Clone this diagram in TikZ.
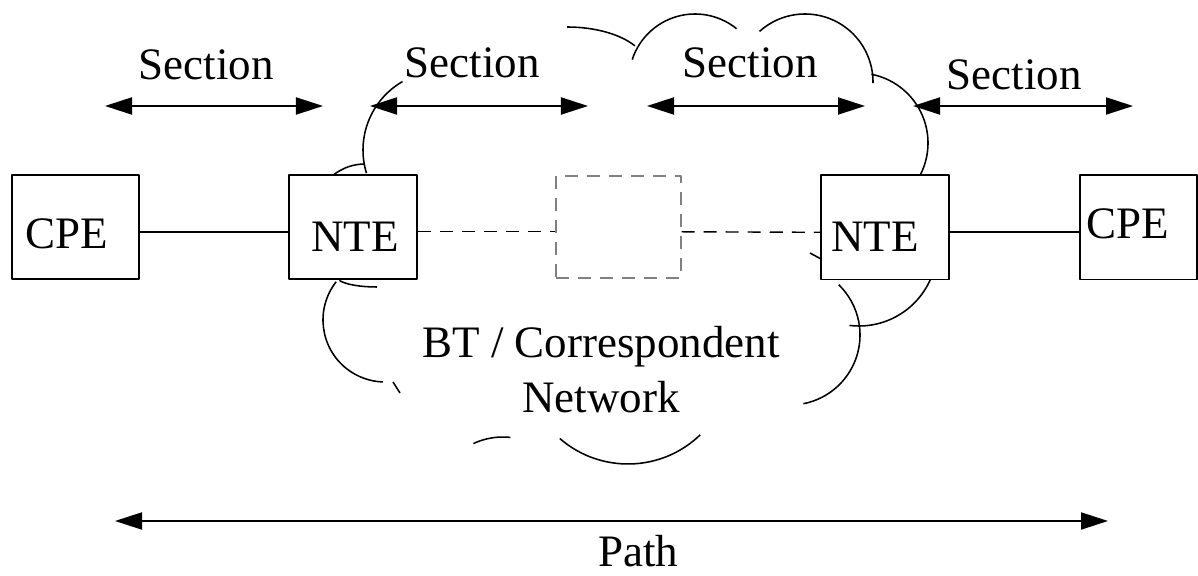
\documentclass[tikz,border=0pt]{standalone}
\usepackage{fontspec}
\setmainfont{Liberation Serif}
\usetikzlibrary{arrows.meta}

\begin{document}
\begin{tikzpicture}[x = 0.025cm, y = 0.025cm, join = round, line width = 1.4pt,
	font = \fontsize{32}{39}\selectfont, >={Triangle[length=0.675cm,width=0.425cm]},
	box/.style = {draw, minimum height = 2.6cm, inner sep = 0pt},
	dashes/.style = {dash pattern = on 0.325cm off 0.225cm, line width = 1pt},
	cloudline/.style = {line width = 1.1pt}]
	\useasboundingbox (0,0) rectangle (1198,576);
	
	% cac hop
	\node[box, minimum width = 3.175cm] (cpeL) at (75.5,349) {};
	\node[box, minimum width = 3.2cm] (nteL) at (353,349) {};
	\node[box, dashes, draw = gray, minimum width = 3.125cm, minimum height = 2.55cm] (mid) at (618.5,349) {};
	\node[box, minimum width = 3.2cm] (nteR) at (885,348.5) {};
	\node[box, minimum width = 2.925cm] (cpeR) at (1138.5,348.5) {};
	\node[anchor = base] (cpeLt) at (67,327) {CPE};
	\node[anchor = base] (nteLt) at (355,324) {NTE};
	\node[anchor = base] (nteRt) at (875,324) {NTE};
	\node[anchor = base] (cpeRt) at (1128,337) {CPE};
	
	\draw ([yshift = -0.12cm]cpeL.east) -- ([yshift = -0.12cm]nteL.west);
	\draw[dashes] ([yshift = -0.12cm]nteL.east) -- ([yshift = -0.12cm]mid.west);
	\draw[dashes] ([yshift = -0.12cm]mid.east) -- ([yshift = -0.12cm]nteR.west);
	\draw ([yshift = -0.12cm]nteR.east) -- ([yshift = -0.12cm]cpeR.west);
	
	% dam may
	\draw[cloudline]
	(442,426) ++(120:79) arc (120:197:79)
	(365,361) ++(129:51) arc (129:90:51)
	(567,509) ++(90:80 and 40) arc (90:32:80 and 40)
	(695,496) ++(162:66) arc (162:51:66)
	(805,494) ++(132:68) arc (132:-1:68)
	(858,433) ++(79:70) arc (79:-27:70)
	(377,299) ++(200:40 and 10) arc (200:270:40 and 10)
	(385,256) ++(142:62) arc (142:268:62)
	(393,194) -- (400,183)
	(503,69) ++(115:70) arc (115:84:70)
	(628,216) ++(229:104) arc (229:314:104)
	(790,241) ++(-79:70) arc (-79:46:70)
	(859,328) ++(-97:78) arc (-97:-24:78)
	(810,323) -- (821,317)
	;
	\node[align = center, inner sep = 0pt] (net) at (601,206) {BT / Correspondent\\Network};
	
	% mui ten
	\path
	(105,470) coordinate (secL1) (323,470) coordinate (secR1)
	(370,470) coordinate (secL2) (588,470) coordinate (secR2)
	(647,470) coordinate (secL3) (865,470) coordinate (secR3)
	(913,470) coordinate (secL4) (1133,470) coordinate (secR4)
	(115,55) coordinate (pathL) (1108,55) coordinate (pathR)
	;
	\foreach \i in {1,...,4}
	\draw[<->] (secL\i) -- (secR\i);
	\foreach \i/\x/\y in {1/206/496, 2/472/498, 3/750/498, 4/1014/486}
	\node[anchor = base] (sec\i) at (\x,\y) {Section};
	\draw[<->] (pathL) -- (pathR);
	\node[anchor = base, inner sep = 0pt] (pathlbl) at (638,9) {Path};
\end{tikzpicture}
\end{document}
